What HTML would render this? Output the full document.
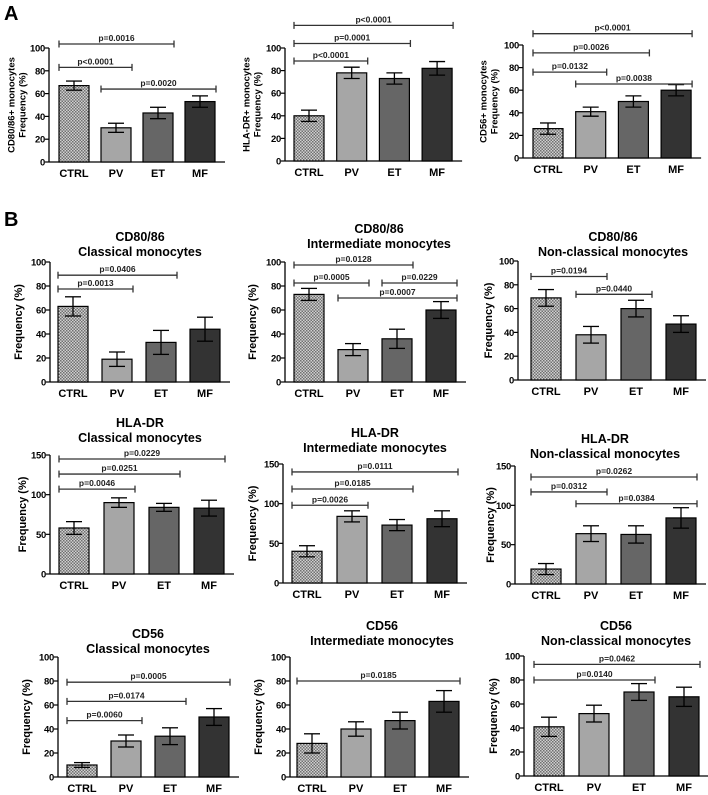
<!DOCTYPE html>
<html><head><meta charset="utf-8"><style>
html,body{margin:0;padding:0;background:#fff;}
svg{display:block;font-family:"Liberation Sans",Arial,sans-serif;font-weight:bold;}
</style></head><body>
<svg id="fig" width="708" height="795" viewBox="0 0 708 795">
<defs>
<pattern id="chk" width="3" height="3" patternUnits="userSpaceOnUse">
<rect width="3" height="3" fill="#d0d0d0"/><rect width="1.5" height="1.5" fill="#707070"/><rect x="1.5" y="1.5" width="1.5" height="1.5" fill="#707070"/>
</pattern>
</defs>
<text x="4" y="20" font-size="20">A</text>
<text x="4" y="226" font-size="20">B</text>
</svg>
<script>
const categories = ["CTRL","PV","ET","MF"];
// values / errors per panel
const a1Values=[67,30,43,53], a1Errors=[4,4,5,5];
const a2Values=[40,78,73,82], a2Errors=[5,5,5,6];
const a3Values=[26,41,50,60], a3Errors=[5,4,5,5];
const b1Values=[63,19,33,44], b1Errors=[8,6,10,10];
const b2Values=[73,27,36,60], b2Errors=[5,5,8,7];
const b3Values=[69,38,60,47], b3Errors=[7,7,7,7];
const b4Values=[58,90,84,83], b4Errors=[8,6,5,10];
const b5Values=[40,84,73,81], b5Errors=[7,7,7,10];
const b6Values=[19,64,63,84], b6Errors=[7,10,11,13];
const b7Values=[10,30,34,50], b7Errors=[2,5,7,7];
const b8Values=[28,40,47,63], b8Errors=[8,6,7,9];
const b9Values=[41,52,70,66], b9Errors=[8,7,7,8];
const ticks100=[0,20,40,60,80,100];
const ticks150=[0,50,100,150];
// significance: [from, to, level, label]
const a1Sig=[[0,2,103.5,"p=0.0016"],[0,1,83,"p<0.0001"],[1,3,64,"p=0.0020"]];
const a2Sig=[[0,3,120,"p<0.0001"],[0,2,104,"p=0.0001"],[0,1,88.5,"p<0.0001"]];
const a3Sig=[[0,3,110,"p<0.0001"],[0,2,93,"p=0.0026"],[0,1,76,"p=0.0132"],[1,3,65.5,"p=0.0038"]];
const b1Sig=[[0,2,89,"p=0.0406"],[0,1,77.5,"p=0.0013"]];
const b2Sig=[[0,2,97.5,"p=0.0128"],[0,1,82.5,"p=0.0005"],[2,3,82.5,"p=0.0229"],[1,3,70,"p=0.0007"]];
const b3Sig=[[0,1,87,"p=0.0194"],[1,2,72,"p=0.0440"]];
const b4Sig=[[0,3,145,"p=0.0229"],[0,2,126,"p=0.0251"],[0,1,107,"p=0.0046"]];
const b5Sig=[[0,3,140,"p=0.0111"],[0,2,118.5,"p=0.0185"],[0,1,98,"p=0.0026"]];
const b6Sig=[[0,3,136,"p=0.0262"],[0,1,117,"p=0.0312"],[1,3,102,"p=0.0384"]];
const b7Sig=[[0,3,79,"p=0.0005"],[0,2,63,"p=0.0174"],[0,1,47,"p=0.0060"]];
const b8Sig=[[0,3,80,"p=0.0185"]];
const b9Sig=[[0,3,93,"p=0.0462"],[0,2,80,"p=0.0140"]];

const fills=["url(#chk)","#a6a6a6","#666666","#333333"];
const NS="http://www.w3.org/2000/svg";
const svg=document.getElementById("fig");
function mk(tag,attrs,parent){const e=document.createElementNS(NS,tag);for(const k in attrs)e.setAttribute(k,attrs[k]);(parent||svg).appendChild(e);return e;}

const panels=[
 {id:"a1",v:a1Values,e:a1Errors,s:a1Sig,t:ticks100,max:100,ax:49,y0:162,y1:48,c0:74,step:42,yl:["CD80/86+ monocytes","Frequency (%)"],ylx:20,title:null},
 {id:"a2",v:a2Values,e:a2Errors,s:a2Sig,t:ticks100,max:100,ax:285,y0:161,y1:48,c0:309,step:42.7,yl:["HLA-DR+ monocytes","Frequency (%)"],ylx:255,title:null},
 {id:"a3",v:a3Values,e:a3Errors,s:a3Sig,t:ticks100,max:100,ax:523,y0:158,y1:45,c0:548,step:42.7,yl:["CD56+ monocytes","Frequency (%)"],ylx:492,title:null},
 {id:"b1",v:b1Values,e:b1Errors,s:b1Sig,t:ticks100,max:100,ax:50,y0:382,y1:262,c0:73,step:44,yl:["Frequency (%)"],ylx:22,title:["CD80/86","Classical monocytes"],tx:140,ty:241},
 {id:"b2",v:b2Values,e:b2Errors,s:b2Sig,t:ticks100,max:100,ax:285,y0:382,y1:262,c0:309,step:44,yl:["Frequency (%)"],ylx:256,title:["CD80/86","Intermediate monocytes"],tx:379,ty:233},
 {id:"b3",v:b3Values,e:b3Errors,s:b3Sig,t:ticks100,max:100,ax:518,y0:380,y1:261,c0:546,step:45,yl:["Frequency (%)"],ylx:492,title:["CD80/86","Non-classical monocytes"],tx:613,ty:241},
 {id:"b4",v:b4Values,e:b4Errors,s:b4Sig,t:ticks150,max:150,ax:50,y0:574,y1:455,c0:74,step:45,yl:["Frequency (%)"],ylx:26,title:["HLA-DR","Classical monocytes"],tx:140,ty:427},
 {id:"b5",v:b5Values,e:b5Errors,s:b5Sig,t:ticks150,max:150,ax:283,y0:583,y1:464,c0:307,step:45,yl:["Frequency (%)"],ylx:256,title:["HLA-DR","Intermediate monocytes"],tx:375,ty:437},
 {id:"b6",v:b6Values,e:b6Errors,s:b6Sig,t:ticks150,max:150,ax:515,y0:584,y1:466,c0:546,step:45,yl:["Frequency (%)"],ylx:494,title:["HLA-DR","Non-classical monocytes"],tx:605,ty:443},
 {id:"b7",v:b7Values,e:b7Errors,s:b7Sig,t:ticks100,max:100,ax:58,y0:777,y1:657,c0:82,step:44,yl:["Frequency (%)"],ylx:30,title:["CD56","Classical monocytes"],tx:148,ty:638},
 {id:"b8",v:b8Values,e:b8Errors,s:b8Sig,t:ticks100,max:100,ax:290,y0:777,y1:657,c0:312,step:44,yl:["Frequency (%)"],ylx:262,title:["CD56","Intermediate monocytes"],tx:382,ty:630},
 {id:"b9",v:b9Values,e:b9Errors,s:b9Sig,t:ticks100,max:100,ax:524,y0:776,y1:656,c0:549,step:45,yl:["Frequency (%)"],ylx:497,title:["CD56","Non-classical monocytes"],tx:616,ty:630}
];

panels.forEach(p=>{
 const g=mk("g",{});
 
 
 const ys=v=>p.y0-(v/p.max)*(p.y0-p.y1);
 const xs=i=>p.c0+i*p.step;
 const bw=30;
 const xEnd=xs(3)+bw/2+10;
 const yAx=mk("line",{x1:p.ax,x2:p.ax,y1:p.y1,y2:p.y0,stroke:"#000","stroke-width":1.3},g);
 
 
 const xAx=mk("line",{x1:p.ax,x2:xEnd,y1:p.y0,y2:p.y0,stroke:"#000","stroke-width":1.3},g);
 
 
 p.t.forEach(t=>{
  const y=ys(t);
  mk("line",{x1:p.ax-4,x2:p.ax,y1:y,y2:y,stroke:"#000","stroke-width":1.2},g);
  const tl=mk("text",{x:p.ax-4,y:y+3.5,"font-size":9.5,"text-anchor":"end","letter-spacing":"-0.3"},g);
  tl.textContent=t;
  
  
 });
 p.v.forEach((v,i)=>{
  const cx=xs(i);
  const r=mk("rect",{x:cx-bw/2,y:ys(v),width:bw,height:p.y0-ys(v),fill:fills[i],stroke:"#000","stroke-width":1.2},g);
  
  
  const e=p.e[i];
  const eg=mk("g",{stroke:"#000","stroke-width":1.3},g);
  
  
  mk("line",{x1:cx,x2:cx,y1:ys(v+e),y2:ys(v-e)},eg);
  mk("line",{x1:cx-8,x2:cx+8,y1:ys(v+e),y2:ys(v+e)},eg);
  mk("line",{x1:cx-8,x2:cx+8,y1:ys(v-e),y2:ys(v-e)},eg);
  const cl=mk("text",{x:cx,y:p.y0+15,"font-size":11,"text-anchor":"middle"},g);
  cl.textContent=categories[i];
  
  
 });
 p.s.forEach(s=>{
  const xa=xs(s[0])-15, xb=xs(s[1])+16, y=ys(s[2]);
  const sg=mk("g",{},g);
  
  
  mk("line",{x1:xa,x2:xb,y1:y,y2:y,stroke:"#333","stroke-width":1.3},sg);
  mk("line",{x1:xa,x2:xa,y1:y-3.5,y2:y+3.5,stroke:"#333","stroke-width":1.3},sg);
  mk("line",{x1:xb,x2:xb,y1:y-3.5,y2:y+3.5,stroke:"#333","stroke-width":1.3},sg);
  const st=mk("text",{x:(xa+xb)/2,y:y-3,"font-size":8.5,"text-anchor":"middle",fill:"#222"},sg);
  st.textContent=s[3];
 });
 const midY=(p.y0+p.y1)/2;
 const n=p.yl.length;
 p.yl.forEach((l,k)=>{
  const x=p.ylx+(k-(n-1)/2)*11;
  const yt=mk("text",{x:x,y:midY,"font-size":n>1?9.5:11,"text-anchor":"middle",transform:`rotate(-90 ${x} ${midY})`},g);
  yt.textContent=l;
  
  
 });
 if(p.title){
  p.title.forEach((l,k)=>{
   const tt=mk("text",{x:p.tx,y:p.ty+k*15,"font-size":12.5,"text-anchor":"middle"},g);
   tt.textContent=l;
   
   
  });
 }
});
</script>
</body></html>
